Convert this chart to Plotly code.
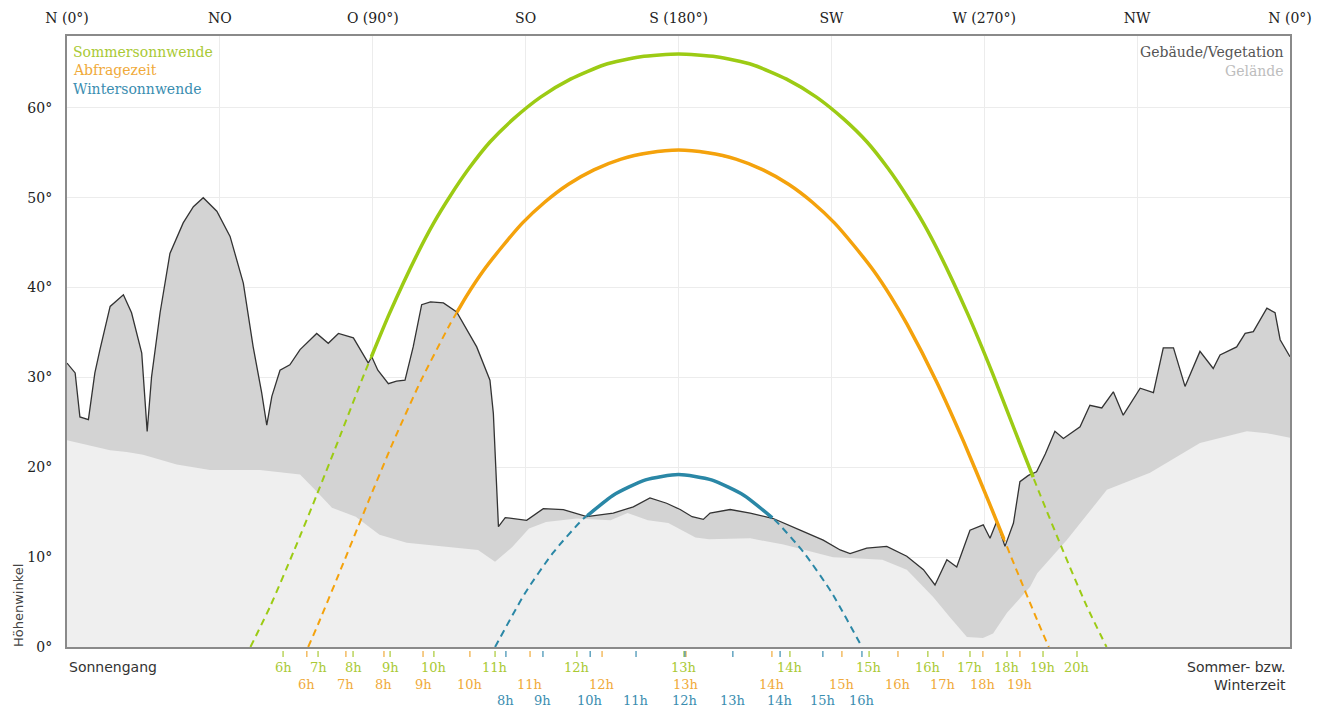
import numpy as np
import plotly.graph_objects as go

# ---------------- data ----------------
compass_deg = [0, 45, 90, 135, 180, 225, 270, 315, 360]
compass_lbl = ["N (0°)", "NO", "O (90°)", "SO", "S (180°)", "SW", "W (270°)", "NW", "N (0°)"]
alt_ticks = [0, 10, 20, 30, 40, 50, 60]

# Gebäude/Vegetation horizon (azimuth, altitude)
bld_az = [0, 2.4, 3.8, 6.3, 8.2, 9.7, 12.7, 16.6, 19.0, 22.0, 23.6, 24.9, 27.4, 30.3, 34.2, 37.2,
          40.1, 44.1, 48.0, 51.9, 54.8, 57.3, 58.8, 60.3, 62.7, 65.6, 68.6, 73.5, 76.9, 79.9, 84.3,
          88.7, 89.7, 91.5, 94.6, 97.0, 99.5, 101.9, 104.4, 107.0, 110.8, 114.7, 120.6, 124.5, 125.5,
          126.0, 127.0, 129.0, 131.4, 135.3, 140.2, 146.1, 153.0, 160.8, 166.7, 171.6, 176.5, 180.5,
          184.0, 187.3, 189.3, 195.2, 201.1, 207.9, 215.8, 222.6, 227.6, 230.5, 235.4, 241.3, 247.2,
          252.1, 255.5, 259.0, 261.9, 265.8, 269.7, 271.7, 273.7, 276.1, 278.6, 280.5, 283.0, 285.4,
          288.0, 290.8, 293.3, 298.2, 301.1, 304.6, 308.0, 310.9, 315.9, 319.8, 322.7, 325.7, 329.1,
          333.5, 337.4, 339.4, 344.3, 346.8, 349.2, 353.2, 355.6, 357.1, 360]
bld_alt = [31.6, 30.5, 25.6, 25.3, 30.5, 33.1, 37.9, 39.2, 37.2, 32.7, 24.0, 30.1, 37.2, 43.8, 47.2, 49.0,
           50.0, 48.5, 45.7, 40.5, 33.4, 28.3, 24.7, 27.9, 30.8, 31.4, 33.1, 34.9, 33.8, 34.9, 34.4,
           31.6, 32.3, 30.8, 29.3, 29.6, 29.7, 33.4, 38.1, 38.4, 38.3, 37.3, 33.4, 29.7, 26.0,
           22.3, 13.4, 14.4, 14.3, 14.1, 15.4, 15.3, 14.5, 14.9, 15.6, 16.6, 16.0, 15.3,
           14.5, 14.2, 14.9, 15.3, 14.9, 14.3, 13.0, 11.9, 10.8, 10.4, 11.0, 11.2, 10.1,
           8.6, 6.9, 9.7, 8.9, 13.0, 13.6, 12.1, 14.0, 11.2, 13.8, 18.4, 19.1, 19.5,
           21.5, 24.0, 23.2, 24.5, 26.9, 26.6, 28.4, 25.8, 28.8, 28.3, 33.3, 33.3, 29.0,
           32.9, 31.0, 32.5, 33.4, 34.9, 35.1, 37.7, 37.2, 34.2, 32.3]

# Gelände horizon
ter_az = [0, 12.7, 17.6, 22.4, 32.3, 42.1, 56.8, 68.6, 73.0, 78.0, 85.0, 92.0, 100.0, 112.0, 121.0,
          126.0, 131.0, 136.0, 141.0, 150.0, 160.0, 165.0, 171.0, 177.0, 185.0, 189.0, 201.1, 210.9,
          220.8, 225.5, 230.5, 240.0, 247.2, 254.9, 259.9, 264.9, 269.6, 272.6, 276.7, 283.5, 285.6,
          294.3, 306.1, 318.8, 333.5, 347.3, 353.2, 360]
ter_alt = [23.0, 21.9, 21.7, 21.4, 20.3, 19.7, 19.7, 19.2, 17.5, 15.5, 14.5, 12.5, 11.6, 11.1, 10.8,
           9.5, 11.1, 13.2, 13.9, 14.3, 14.1, 14.9, 14.1, 13.8, 12.2, 12.0, 12.1, 11.4,
           10.4, 10.0, 9.9, 9.7, 8.6, 5.6, 3.3, 1.1, 1.0, 1.5, 3.8, 6.7, 8.2,
           11.9, 17.5, 19.4, 22.7, 24.0, 23.8, 23.3]

# Sun paths (azimuth, altitude)
sum_az = [54.0, 59.9, 66.8, 73.6, 80.5, 87.5, 94.9, 103.2, 107.8, 112.8, 118.4, 124.5, 131.5, 139.4,
          148.2, 158.2, 168.9, 180.0, 191.1, 201.8, 211.8, 220.6, 228.5, 235.5, 241.6, 247.2, 252.2,
          256.8, 265.1, 272.5, 279.5, 286.4, 293.2, 300.1, 306.0]
sum_alt = [0, 4.6, 10.7, 17.0, 23.6, 30.4, 37.1, 43.8, 47.1, 50.2, 53.3, 56.2, 58.8, 61.2,
           63.2, 64.8, 65.7, 66.0, 65.7, 64.8, 63.2, 61.2, 58.8, 56.2, 53.3, 50.2, 47.1,
           43.8, 37.1, 30.4, 23.6, 17.0, 10.7, 4.6, 0]
qry_az = [71.0, 74.1, 81.3, 88.6, 96.0, 104.0, 112.7, 117.5, 122.6, 128.2, 134.1, 140.6, 147.6, 155.1,
          163.1, 171.4, 180.0, 188.6, 196.9, 204.9, 212.4, 219.4, 225.9, 231.8, 237.4, 242.5, 247.3,
          256.0, 264.0, 271.4, 278.7, 285.9, 289.0]
qry_alt = [0, 2.7, 9.3, 16.1, 22.8, 29.5, 35.9, 39.0, 41.9, 44.6, 47.2, 49.5, 51.5, 53.1,
           54.3, 55.0, 55.3, 55.0, 54.3, 53.1, 51.5, 49.5, 47.2, 44.6, 41.9, 39.0, 35.9,
           29.5, 22.8, 16.1, 9.3, 2.7, 0]
win_az = [126.0, 135.0, 143.1, 151.8, 160.8, 170.3, 180.0, 189.7, 199.2, 208.2, 216.9, 225.0, 234.0]
win_alt = [0, 6.1, 10.5, 14.2, 16.9, 18.6, 19.2, 18.6, 16.9, 14.2, 10.5, 6.1, 0]

# visible (above horizon) azimuth ranges
sum_vis = [89.6, 284.4]
qry_vis = [114.8, 275.8]
win_vis = [153.2, 207.6]

# hour labels (azimuth of label)
sum_hours = ["6h", "7h", "8h", "9h", "10h", "11h", "12h", "13h", "14h", "15h", "16h", "17h", "18h", "19h", "20h"]
sum_hour_az = [63.6, 73.9, 84.2, 95.1, 108.0, 126.0, 150.1, 181.6, 212.8, 236.1, 253.4, 265.8, 276.7, 287.3, 297.3]
qry_hours = ["6h", "7h", "8h", "9h", "10h", "11h", "12h", "13h", "14h", "15h", "16h", "17h", "18h", "19h"]
qry_hour_az = [70.6, 82.1, 93.3, 104.8, 118.6, 136.3, 157.5, 182.2, 207.5, 228.1, 244.6, 257.9, 269.6, 280.5]
win_hours = ["8h", "9h", "10h", "11h", "12h", "13h", "14h", "15h", "16h"]
win_hour_az = [129.2, 140.1, 154.0, 167.5, 181.9, 196.0, 209.9, 222.5, 234.0]

# ---------------- style ----------------
SERIF = "DejaVu Serif"
SANS = "DejaVu Sans"
C_SUM, C_SUM_T = "#9ccb14", "#a9c934"
C_QRY, C_QRY_T = "#f4a20c", "#f0aa3a"
C_WIN, C_WIN_T = "#2a87a6", "#3a8db0"

fig = go.Figure()

fig.add_trace(go.Scatter(x=bld_az, y=bld_alt, mode="lines", line=dict(width=0, color="#d3d3d3"),
                         fill="tozeroy", fillcolor="#d3d3d3", hoverinfo="skip", showlegend=False))
fig.add_trace(go.Scatter(x=ter_az, y=ter_alt, mode="lines", line=dict(width=0, color="#efefef"),
                         fill="tozeroy", fillcolor="#efefef", hoverinfo="skip", showlegend=False))
fig.add_trace(go.Scatter(x=bld_az, y=bld_alt, mode="lines", line=dict(width=1.3, color="#333333"),
                         hoverinfo="skip", showlegend=False))


def add_path(az, alt, vis, color):
    az = np.asarray(az, float)
    alt = np.asarray(alt, float)
    fig.add_trace(go.Scatter(x=az, y=alt, mode="lines",
                             line=dict(width=2, color=color, dash="7px,5px", shape="spline", smoothing=0.6),
                             hoverinfo="skip", showlegend=False))
    m = (az > vis[0]) & (az < vis[1])
    sx = np.concatenate([[vis[0]], az[m], [vis[1]]])
    sy = np.concatenate([[np.interp(vis[0], az, alt)], alt[m], [np.interp(vis[1], az, alt)]])
    fig.add_trace(go.Scatter(x=sx, y=sy, mode="lines",
                             line=dict(width=3.5, color=color, shape="spline", smoothing=0.6),
                             hoverinfo="skip", showlegend=False))


add_path(sum_az, sum_alt, sum_vis, C_SUM)
add_path(qry_az, qry_alt, qry_vis, C_QRY)
add_path(win_az, win_alt, win_vis, C_WIN)

# page is rendered with an 8px body margin -> figure origin at (8, 8)
OFF = 8
W, H = 1322, 701
ML, MR, MT, MB = 67 - OFF, 40, 36 - OFF, 62
plot_h = H - MT - MB
plot_w = W - ML - MR


def py(pix_y):  # page pixel y -> paper y
    return (H - MB - (pix_y - OFF)) / plot_h


def px(pix_x):  # page pixel x -> paper x
    return (pix_x - OFF - ML) / plot_w


annotations = []
shapes = []
rows = [(sum_hours, sum_hour_az, C_SUM_T, 667), (qry_hours, qry_hour_az, C_QRY_T, 685),
        (win_hours, win_hour_az, C_WIN_T, 700)]
for labels, azs, col, ypix in rows:
    for lab, a in zip(labels, azs):
        annotations.append(dict(x=a, y=py(ypix), xref="x", yref="paper", text=lab, showarrow=False,
                                xanchor="center", yanchor="middle",
                                font=dict(family=SERIF, size=13, color=col)))
        shapes.append(dict(type="line", xref="x", yref="paper", x0=a, x1=a, y0=py(651), y1=py(657),
                           line=dict(color=col, width=1.2)))

for i, (t, c) in enumerate([("Sommersonnwende", C_SUM_T), ("Abfragezeit", C_QRY_T), ("Wintersonnwende", C_WIN_T)]):
    annotations.append(dict(x=px(71), y=py(52 + 18.5 * i), xref="paper", yref="paper", text=t, showarrow=False,
                            xanchor="left", yanchor="middle", font=dict(family=SERIF, size=14, color=c)))
annotations.append(dict(x=px(1286), y=py(52), xref="paper", yref="paper", text="Gebäude/Vegetation", showarrow=False,
                        xanchor="right", yanchor="middle", font=dict(family=SERIF, size=14, color="#555555")))
annotations.append(dict(x=px(1286), y=py(71), xref="paper", yref="paper", text="Gelände", showarrow=False,
                        xanchor="right", yanchor="middle", font=dict(family=SERIF, size=14, color="#bdbdbd")))
annotations.append(dict(x=px(18), y=py(606), xref="paper", yref="paper", text="Höhenwinkel",
                        showarrow=False, textangle=-90, xanchor="center", yanchor="middle",
                        font=dict(family=SANS, size=13, color="#444444")))
annotations.append(dict(x=px(67), y=py(667), xref="paper", yref="paper", text="Sonnengang", showarrow=False,
                        xanchor="left", yanchor="middle", font=dict(family=SANS, size=14, color="#333333")))
annotations.append(dict(x=px(1288), y=py(676), xref="paper", yref="paper", text="Sommer- bzw.<br>Winterzeit",
                        showarrow=False, xanchor="right", yanchor="middle", align="right",
                        font=dict(family=SANS, size=14, color="#333333")))

fig.update_layout(
    width=W, height=H,
    margin=dict(l=ML, r=MR, t=MT, b=MB, autoexpand=False),
    plot_bgcolor="white", paper_bgcolor="white",
    showlegend=False,
    annotations=annotations, shapes=shapes,
    xaxis=dict(range=[0, 360], side="top", tickvals=compass_deg, ticktext=compass_lbl,
               showgrid=True, gridcolor="#ececec", gridwidth=1, zeroline=False,
               showline=True, mirror=True, linecolor="#8a8a8a", linewidth=2, ticks="",
               ticklabelstandoff=5, automargin=False,
               tickfont=dict(family=SERIF, size=14, color="#222222"), fixedrange=True),
    yaxis=dict(range=[0, 68], tickvals=alt_ticks, ticktext=[f"{v}°" for v in alt_ticks],
               showgrid=True, gridcolor="#ececec", gridwidth=1, zeroline=False,
               showline=True, mirror=True, linecolor="#8a8a8a", linewidth=2, ticks="",
               ticklabelstandoff=10, automargin=False,
               tickfont=dict(family=SERIF, size=14, color="#222222"), fixedrange=True),
)

fig.write_html("out.html")
